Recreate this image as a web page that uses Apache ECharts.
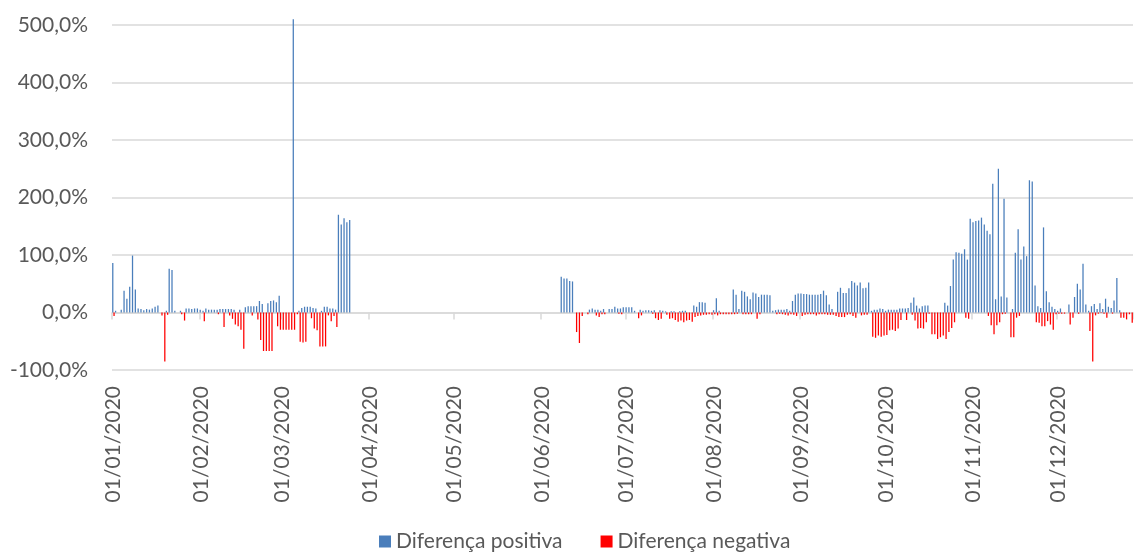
<!DOCTYPE html>
<html>
<head>
<meta charset="utf-8">
<script src="https://cdn.jsdelivr.net/npm/echarts@6/dist/echarts.min.js"></script>
<style>
  html, body { margin: 0; padding: 0; background: #fff; }
  #chart { width: 1135px; height: 552px; }
</style>
</head>
<body>
<div id="chart"></div>
<script>
// Daily differences for 2020 (01/01 to 27/12), in percent.
const monthLengths = [31, 29, 31, 30, 31, 30, 31, 31, 30, 31, 30, 27];

const tickLabels = ['01/01/2020', '01/02/2020', '01/03/2020', '01/04/2020', '01/05/2020', '01/06/2020',
  '01/07/2020', '01/08/2020', '01/09/2020', '01/10/2020', '01/11/2020', '01/12/2020'];

// Positive differences, one array per month
const posJan = [86,3,0,5,38,24,45,99,40,7,6,4,6,5,7,10,12,0,0,3,76,74,3,0,3,0,7,7,6,7,7];
const posFeb = [5,3,7,5,5,5,5,6,6,6,6,6,5,0,5,0,9,11,11,11,11,20,15,0,16,20,21,18,29];
const posMar = [0,0,0,0,510,0,3,8,10,10,10,8,7,0,3,10,10,7,7,5,170,153,164,157,161,0,0,0,0,0,0];
const posApr = [0,0,0,0,0,0,0,0,0,0,0,0,0,0,0,0,0,0,0,0,0,0,0,0,0,0,0,0,0,0];
const posMay = [0,0,0,0,0,0,0,0,0,0,0,0,0,0,0,0,0,0,0,0,0,0,0,0,0,0,0,0,0,0,0];
const posJun = [0,0,0,0,0,0,0,62,59,59,55,54,0,0,0,0,0,5,7,5,5,3,6,0,6,6,10,7,7,9];
const posJul = [9,9,9,3,0,5,3,4,4,3,4,0,4,3,2,0,2,2,0,2,3,3,0,0,12,10,18,18,17,0,0];
const posAug = [4,25,3,0,0,0,0,40,31,6,38,36,28,23,35,33,27,31,31,31,30,3,4,5,5,5,6,3,20,31,33];
const posSep = [33,32,32,31,31,31,31,32,38,30,14,6,0,36,43,34,34,42,55,52,47,52,42,43,52,3,5,5,7,6];
const posOct = [3,5,5,5,5,7,7,7,8,17,26,12,7,11,12,12,0,0,0,0,0,17,12,46,92,105,104,102,110,92,163];
const posNov = [157,159,160,165,153,142,136,224,23,250,28,198,26,0,6,104,145,92,115,98,230,228,47,11,8,148,37,18,10,6];
const posDec = [3,7,0,0,14,0,27,50,40,85,14,3,11,15,6,16,6,24,10,8,21,60,4,0,0,0,0];

// Negative differences, one array per month
const negJan = [-6,0,0,0,0,0,0,0,0,0,0,0,0,0,0,0,0,-5,-85,-4,0,0,0,0,-3,-14,0,0,0,0,0];
const negFeb = [0,-15,0,0,0,0,-3,0,-25,0,-5,-11,-21,-24,-30,-63,0,0,-5,0,-12,-48,-67,-67,-67,-67,0,-24,-30];
const negMar = [-30,-30,-30,-30,-30,-3,-51,-52,-51,0,-10,-28,-31,-59,-59,-59,-5,-15,-6,-25,0,0,0,0,0,0,0,0,0,0,0];
const negApr = [0,0,0,0,0,0,0,0,0,0,0,0,0,0,0,0,0,0,0,0,0,0,0,0,0,0,0,0,0,0];
const negMay = [0,0,0,0,0,0,0,0,0,0,0,0,0,0,0,0,0,0,0,0,0,0,0,0,0,0,0,0,0,0,0];
const negJun = [0,0,0,0,0,0,0,0,0,0,0,0,-34,-53,-6,0,-3,0,0,-5,-8,-3,-3,0,0,0,0,-2,-3,0];
const negJul = [0,0,0,0,-10,-5,0,0,0,-2,-10,-13,-11,0,-4,-11,-10,-13,-16,-14,-17,-14,-13,-16,-8,-6,-5,-4,-4,-3,-4];
const negAug = [-3,-5,-3,-3,-3,-3,-3,-3,-2,0,-3,-3,-3,-3,0,-11,-3,0,0,0,0,0,-3,-2,-3,-4,-5,-3,-4,-6,0];
const negSep = [-6,-4,-3,-3,-3,-5,-3,-3,-3,-4,-4,-4,-6,-8,-8,-8,-4,-3,-6,-9,0,-5,-4,-4,0,-42,-44,-40,-42,-40];
const negOct = [-39,-31,-30,-32,-28,-13,0,-13,0,-4,-14,-28,-27,-28,-17,-2,-38,-38,-46,-43,-40,-46,-34,-27,-17,0,0,0,-9,-11,0];
const negNov = [0,0,0,0,0,-6,-22,-38,-22,-17,-3,-2,0,-43,-43,-9,-6,0,0,0,0,0,-17,-18,-24,-24,-15,-21,-30,-3];
const negDec = [-2,-2,-2,0,-21,-9,0,-2,0,0,0,-32,-85,-5,-2,-1,-2,-9,0,-2,0,0,-9,-9,-12,-3,-18];

const positive = [].concat(posJan, posFeb, posMar, posApr, posMay, posJun, posJul, posAug, posSep, posOct, posNov, posDec);
const negative = [].concat(negJan, negFeb, negMar, negApr, negMay, negJun, negJul, negAug, negSep, negOct, negNov, negDec);

// dd/mm/2020 category for every day
const pad = n => (n < 10 ? '0' : '') + n;
const categories = [];
monthLengths.forEach((len, m) => {
  for (let d = 1; d <= len; d++) categories.push(pad(d) + '/' + pad(m + 1) + '/2020');
});

const isMonthStart = (i, v) => tickLabels.indexOf(v) !== -1;
const FONT = 'Lato';
const TEXT = '#595959';
const GRID = '#d9d9d9';

const chart = echarts.init(document.getElementById('chart'), null, { renderer: 'canvas' });
chart.setOption({
  animation: false,
  textStyle: { fontFamily: FONT },
  grid: { left: 112, right: 2, top: 25, bottom: 182, containLabel: false },
  legend: {
    left: 374,
    top: 526,
    itemWidth: 12,
    itemHeight: 12,
    itemGap: 38,
    icon: 'rect',
    textStyle: { fontFamily: FONT, fontSize: 21, color: TEXT },
    data: ['Diferença positiva', 'Diferença negativa']
  },
  xAxis: [
    {
      type: 'category',
      data: categories,
      boundaryGap: true,
      axisLine: { show: true, onZero: true, lineStyle: { color: GRID, width: 1.5 } },
      axisTick: { show: true, interval: isMonthStart, length: 7, lineStyle: { color: GRID, width: 1.5 } },
      axisLabel: { show: false },
      splitLine: { show: false }
    },
    {
      type: 'category',
      data: categories,
      position: 'bottom',
      boundaryGap: true,
      axisLine: { show: false, onZero: false },
      axisTick: { show: false },
      axisLabel: {
        show: true,
        interval: isMonthStart,
        rotate: 90,
        margin: 16,
        fontFamily: FONT,
        fontSize: 21,
        color: TEXT
      },
      splitLine: { show: false }
    }
  ],
  yAxis: {
    type: 'value',
    min: -100,
    max: 500,
    interval: 100,
    axisLine: { show: false },
    axisTick: { show: false },
    axisLabel: {
      margin: 24,
      fontFamily: FONT,
      fontSize: 21,
      color: TEXT,
      formatter: v => v.toFixed(1).replace('.', ',') + '%'
    },
    splitLine: { lineStyle: { color: GRID, width: 1.5 } }
  },
  series: [
    {
      name: 'Diferença positiva',
      type: 'bar',
      data: positive,
      clip: false,
      barGap: '0%',
      barCategoryGap: '10%',
      itemStyle: { color: '#4a7ebb' }
    },
    {
      name: 'Diferença negativa',
      type: 'bar',
      data: negative,
      clip: false,
      barGap: '0%',
      barCategoryGap: '10%',
      itemStyle: { color: '#ff0000' }
    }
  ]
});
</script>
</body>
</html>
